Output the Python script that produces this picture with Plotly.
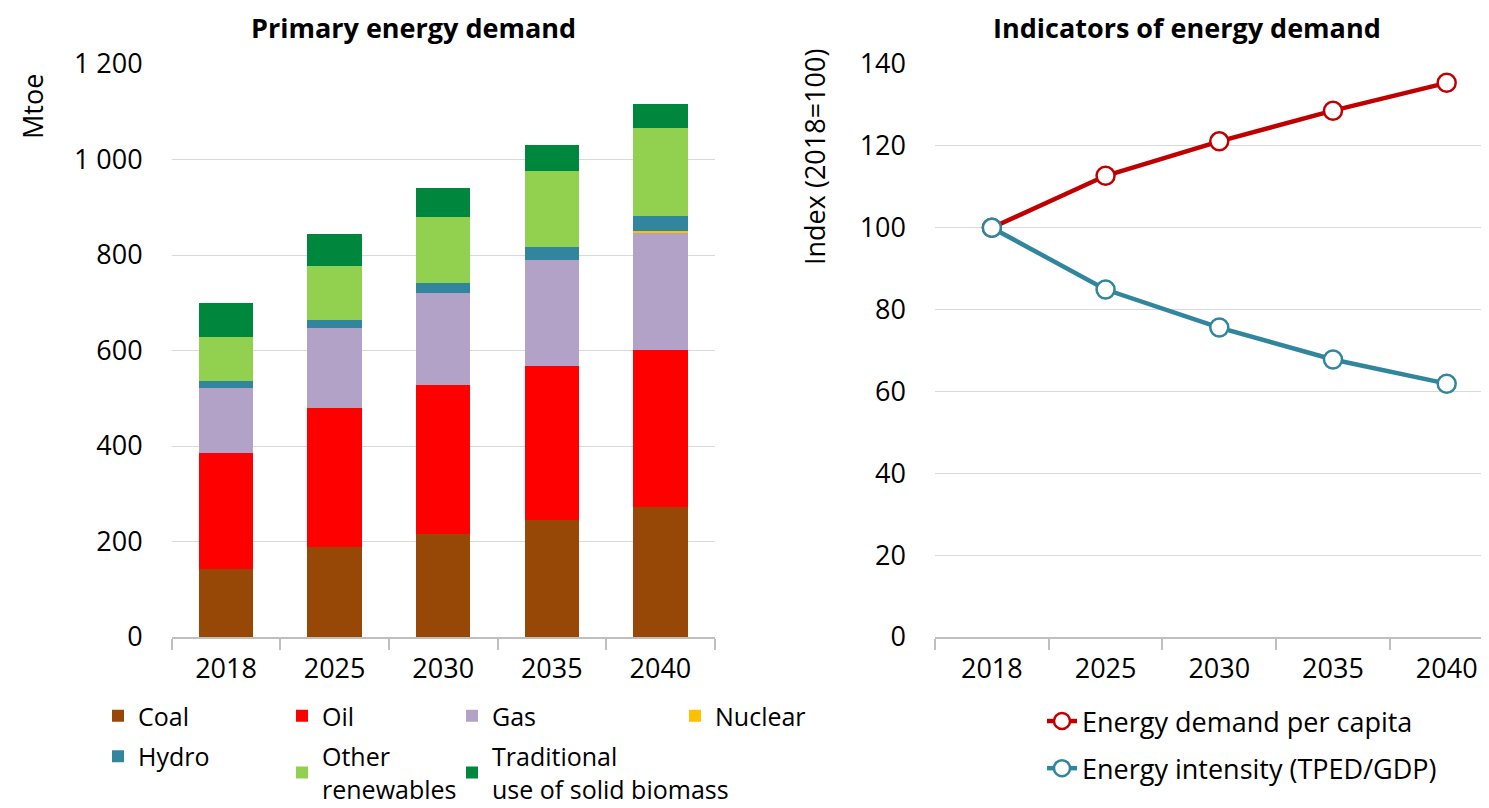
import plotly.graph_objects as go

# The page body adds an 8px margin; the figure is sized so it ends at the window edge.
OX, OY = 8, 8
W, H = 1489 - OX, 808 - OY

years = ["2018", "2025", "2030", "2035", "2040"]

coal = [142, 188, 215, 245, 272]
oil = [244, 291, 312, 323, 329]
gas = [136, 168, 193, 221, 246]
nuclear = [0, 0, 0, 0, 2.5]
hydro = [15, 16, 22, 27, 33]
other_renewables = [91, 114, 137, 160, 184]
traditional_biomass = [72, 66, 61, 55, 49]

demand_per_capita = [100, 112.7, 121.1, 128.6, 135.4]
energy_intensity = [100, 84.9, 75.6, 67.8, 61.9]

left_ticks = [0, 200, 400, 600, 800, 1000, 1200]
left_ticktext = ["0", "200", "400", "600", "800", "1 000", "1 200"]
right_ticks = [0, 20, 40, 60, 80, 100, 120, 140]

FONT = "Open Sans"
FS = 27
LFS = 25

def px_x(p):
    return (p - OX) / W

def px_y(p):
    return 1 - (p - OY) / H

fig = go.Figure()

bar_series = [
    ("Coal", coal, "#974706", "legend"),
    ("Oil", oil, "#FF0000", "legend2"),
    ("Gas", gas, "#B3A2C7", "legend3"),
    ("Nuclear", nuclear, "#FFC000", "legend4"),
    ("Hydro", hydro, "#31859C", "legend"),
    ("Other<br>renewables", other_renewables, "#92D050", "legend2"),
    ("Traditional<br>use of solid biomass", traditional_biomass, "#00873E", "legend3"),
]
for name, vals, col, lg in bar_series:
    fig.add_trace(go.Bar(
        x=years, y=vals, name=name, marker=dict(color=col, line=dict(width=0)),
        width=0.5, xaxis="x", yaxis="y", legend=lg, legendgroup=name,
    ))

fig.add_trace(go.Scatter(
    x=years, y=demand_per_capita, name="Energy demand per capita",
    mode="lines+markers", line=dict(color="#C00000", width=4.5),
    marker=dict(size=18, color="white", line=dict(color="#C00000", width=2.5)),
    xaxis="x2", yaxis="y2", legend="legend5", legendgroup="a",
))
fig.add_trace(go.Scatter(
    x=years, y=energy_intensity, name="Energy intensity (TPED/GDP)",
    mode="lines+markers", line=dict(color="#31859C", width=4.5),
    marker=dict(size=18, color="white", line=dict(color="#31859C", width=2.5)),
    xaxis="x2", yaxis="y2", legend="legend5", legendgroup="b",
))

ydom = [px_y(637), px_y(64)]

xaxis_common = dict(
    type="category", categoryorder="array", categoryarray=years,
    showline=True, linecolor="#BFBFBF", linewidth=1.7,
    ticks="outside", tickson="boundaries", ticklen=11, tickcolor="#BFBFBF", tickwidth=1.7,
    showgrid=False, tickfont=dict(family=FONT, size=FS, color="#000000"),
    ticklabelstandoff=7, fixedrange=True, automargin=False,
)
yaxis_common = dict(
    showgrid=True, gridcolor="#D9D9D9", gridwidth=1.3, zeroline=False,
    showline=False, ticks="", tickfont=dict(family=FONT, size=FS, color="#000000"),
    ticklabelstandoff=28, automargin=False,
)

def legend_at(xpx, ypx, gap, size):
    return dict(
        x=px_x(xpx), y=px_y(ypx),
        orientation="v", xanchor="left", yanchor="top",
        font=dict(family=FONT, size=size, color="#000000"),
        bgcolor="rgba(0,0,0,0)", borderwidth=0, tracegroupgap=gap,
        traceorder="grouped",
    )

fig.update_layout(
    width=W, height=H,
    margin=dict(l=0, r=0, t=0, b=0, autoexpand=False),
    paper_bgcolor="white", plot_bgcolor="white",
    barmode="stack",
    font=dict(family=FONT, size=FS, color="#000000"),
    xaxis=dict(domain=[px_x(171.7), px_x(714.7)], range=[-0.5, 4.5], anchor="y", **xaxis_common),
    yaxis=dict(domain=ydom, range=[0, 1200], tickvals=left_ticks, ticktext=left_ticktext,
               anchor="x", **yaxis_common),
    xaxis2=dict(domain=[px_x(935), 1.0], range=[-0.5, 4.372], anchor="y2", **xaxis_common),
    yaxis2=dict(domain=ydom, range=[0, 140], tickvals=right_ticks, anchor="x2", **yaxis_common),
    legend=legend_at(98, 693, 5, LFS),
    legend2=legend_at(282, 693, 5, LFS),
    legend3=legend_at(452, 693, 5, LFS),
    legend4=legend_at(675, 693, 5, LFS),
    legend5=legend_at(1042, 697, 9, FS),
    showlegend=True,
    annotations=[
        dict(text="<b>Primary energy demand</b>", x=px_x(413), y=px_y(27), xref="paper", yref="paper",
             showarrow=False, xanchor="center", yanchor="middle", font=dict(family=FONT, size=27)),
        dict(text="<b>Indicators of energy demand</b>", x=px_x(1187), y=px_y(27), xref="paper", yref="paper",
             showarrow=False, xanchor="center", yanchor="middle", font=dict(family=FONT, size=27)),
        dict(text="Mtoe", x=px_x(32), y=px_y(107), xref="paper", yref="paper", textangle=-90,
             showarrow=False, xanchor="center", yanchor="middle", font=dict(family=FONT, size=FS)),
        dict(text="Index (2018=100)", x=px_x(814), y=px_y(157), xref="paper", yref="paper", textangle=-90,
             showarrow=False, xanchor="center", yanchor="middle", font=dict(family=FONT, size=FS)),
    ],
)

fig.write_html("out.html")
